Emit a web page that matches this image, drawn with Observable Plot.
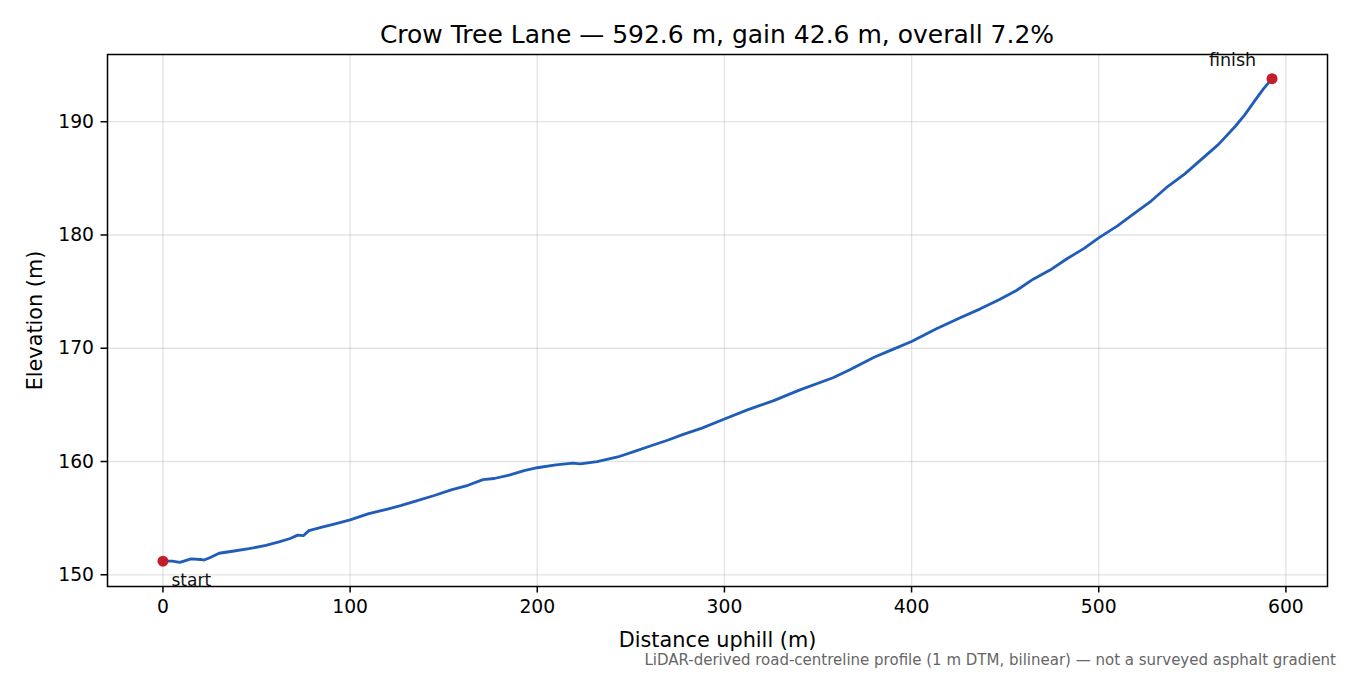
<!DOCTYPE html>
<html>
<head>
<meta charset="utf-8">
<script src="https://cdn.jsdelivr.net/npm/d3@7"></script>
<script src="https://cdn.jsdelivr.net/npm/@observablehq/plot@0.6"></script>
<style>
  html, body { margin: 0; padding: 0; background: #fff; }
  #wrap { position: relative; width: 1350px; height: 675px; font-family: "DejaVu Sans", sans-serif; overflow: hidden; }
  #title { height: 46px; box-sizing: border-box; padding: 22px 23px 0 107px; text-align: center;
           font-size: 25px; line-height: 1; color: #000; white-space: nowrap; }
  #chart svg { display: block; }
  #caption { position: absolute; top: 652.8px; right: 14px; text-align: right;
             font-size: 15px; line-height: 1; color: #666; white-space: nowrap; }
</style>
</head>
<body>
<div id="wrap">
  <div id="title"></div>
  <div id="chart"></div>
  <div id="caption"></div>
</div>
<script>
const titleText = "Crow Tree Lane — 592.6 m, gain 42.6 m, overall 7.2%";
const captionText = "LiDAR-derived road-centreline profile (1 m DTM, bilinear) — not a surveyed asphalt gradient";
const xLabel = "Distance uphill (m)";
const yLabel = "Elevation (m)";

const distances = [0, 5, 9, 15, 20, 22, 25, 30, 38, 46, 55, 62, 68, 72, 75, 78, 85, 92, 100, 110,
  120, 127, 135, 145, 154, 163, 171, 177, 185, 193, 200, 210, 219, 223, 232, 243, 252, 260, 270, 278,
  288, 300, 313, 326, 340, 358, 367, 380, 390, 400, 413, 426, 437, 447, 456, 465, 474, 483, 492, 500,
  510, 519, 528, 537, 546, 555, 564, 573, 578, 584, 588, 592.6];
const elevations = [151.2, 151.2, 151.1, 151.4, 151.35, 151.3, 151.5, 151.9, 152.1, 152.3, 152.6, 152.9, 153.2, 153.5, 153.45, 153.9, 154.2, 154.5, 154.85, 155.4,
  155.8, 156.1, 156.5, 157.0, 157.5, 157.9, 158.4, 158.5, 158.8, 159.2, 159.45, 159.7, 159.85, 159.8, 160.0, 160.4, 160.9, 161.35, 161.9, 162.4,
  162.95, 163.75, 164.6, 165.35, 166.3, 167.4, 168.1, 169.2, 169.9, 170.6, 171.7, 172.7, 173.5, 174.3, 175.1, 176.1, 176.9, 177.9, 178.8, 179.75,
  180.8, 181.9, 183.0, 184.3, 185.4, 186.7, 188.0, 189.6, 190.6, 192.0, 192.9, 193.8];
const endpointLabels = ["start", "finish"];
const xTicks = [0, 100, 200, 300, 400, 500, 600];
const yTicks = [150, 160, 170, 180, 190];

const profile = distances.map((d, i) => ({d, e: elevations[i]}));
const ends = [
  {d: distances[0], e: elevations[0], label: endpointLabels[0]},
  {d: distances[distances.length - 1], e: elevations[elevations.length - 1], label: endpointLabels[1]}
];

// matplotlib-like 5% margins
const xMin = d3.min(distances), xMax = d3.max(distances);
const yMin = d3.min(elevations), yMax = d3.max(elevations);
const xPad = (xMax - xMin) * 0.05, yPad = (yMax - yMin) * 0.05;

document.getElementById("title").textContent = titleText;
document.getElementById("caption").textContent = captionText;

const chart = Plot.plot({
  width: 1350,
  height: 629,
  marginTop: 8,
  marginBottom: 89,
  marginLeft: 107,
  marginRight: 23,
  style: {fontFamily: "DejaVu Sans, sans-serif", fontSize: "18.75px", color: "#000", background: "transparent"},
  x: {domain: [xMin - xPad, xMax + xPad]},
  y: {domain: [yMin - yPad, yMax + yPad]},
  marks: [
    Plot.gridX(xTicks, {stroke: "#b0b0b0", strokeOpacity: 0.35, strokeWidth: 1.3}),
    Plot.gridY(yTicks, {stroke: "#b0b0b0", strokeOpacity: 0.35, strokeWidth: 1.3}),
    Plot.axisX(xTicks, {tickSize: 6.5, tickPadding: 7, strokeWidth: 1.5, label: null, fontSize: 18.75, tickFormat: d => String(d)}),
    Plot.axisY(yTicks, {tickSize: 6.5, tickPadding: 7, strokeWidth: 1.5, label: null, fontSize: 18.75, tickFormat: d => String(d)}),
    Plot.line(profile, {x: "d", y: "e", stroke: "#1f5db8", strokeWidth: 2.8, strokeLinejoin: "round", strokeLinecap: "round"}),
    Plot.dot(ends, {x: "d", y: "e", r: 5.5, fill: "#c41e2a", stroke: "none"}),
    Plot.text([ends[0]], {x: "d", y: "e", text: "label", textAnchor: "start", dx: 8.5, dy: 19.6, fontSize: 17, fill: "#111"}),
    Plot.text([ends[1]], {x: "d", y: "e", text: "label", textAnchor: "middle", dx: -39.5, dy: -18.4, fontSize: 17.5, fill: "#111"}),
    Plot.text([xLabel], {frameAnchor: "bottom", text: d => d, dy: 54, lineAnchor: "middle", fontSize: 20.8, fill: "#000"}),
    Plot.text([yLabel], {frameAnchor: "left", text: d => d, dx: -72, rotate: -90, textAnchor: "middle", lineAnchor: "middle", fontSize: 20.8, fill: "#000"}),
    Plot.frame({stroke: "#000", strokeWidth: 1.5})
  ]
});
document.getElementById("chart").appendChild(chart);
</script>
</body>
</html>
